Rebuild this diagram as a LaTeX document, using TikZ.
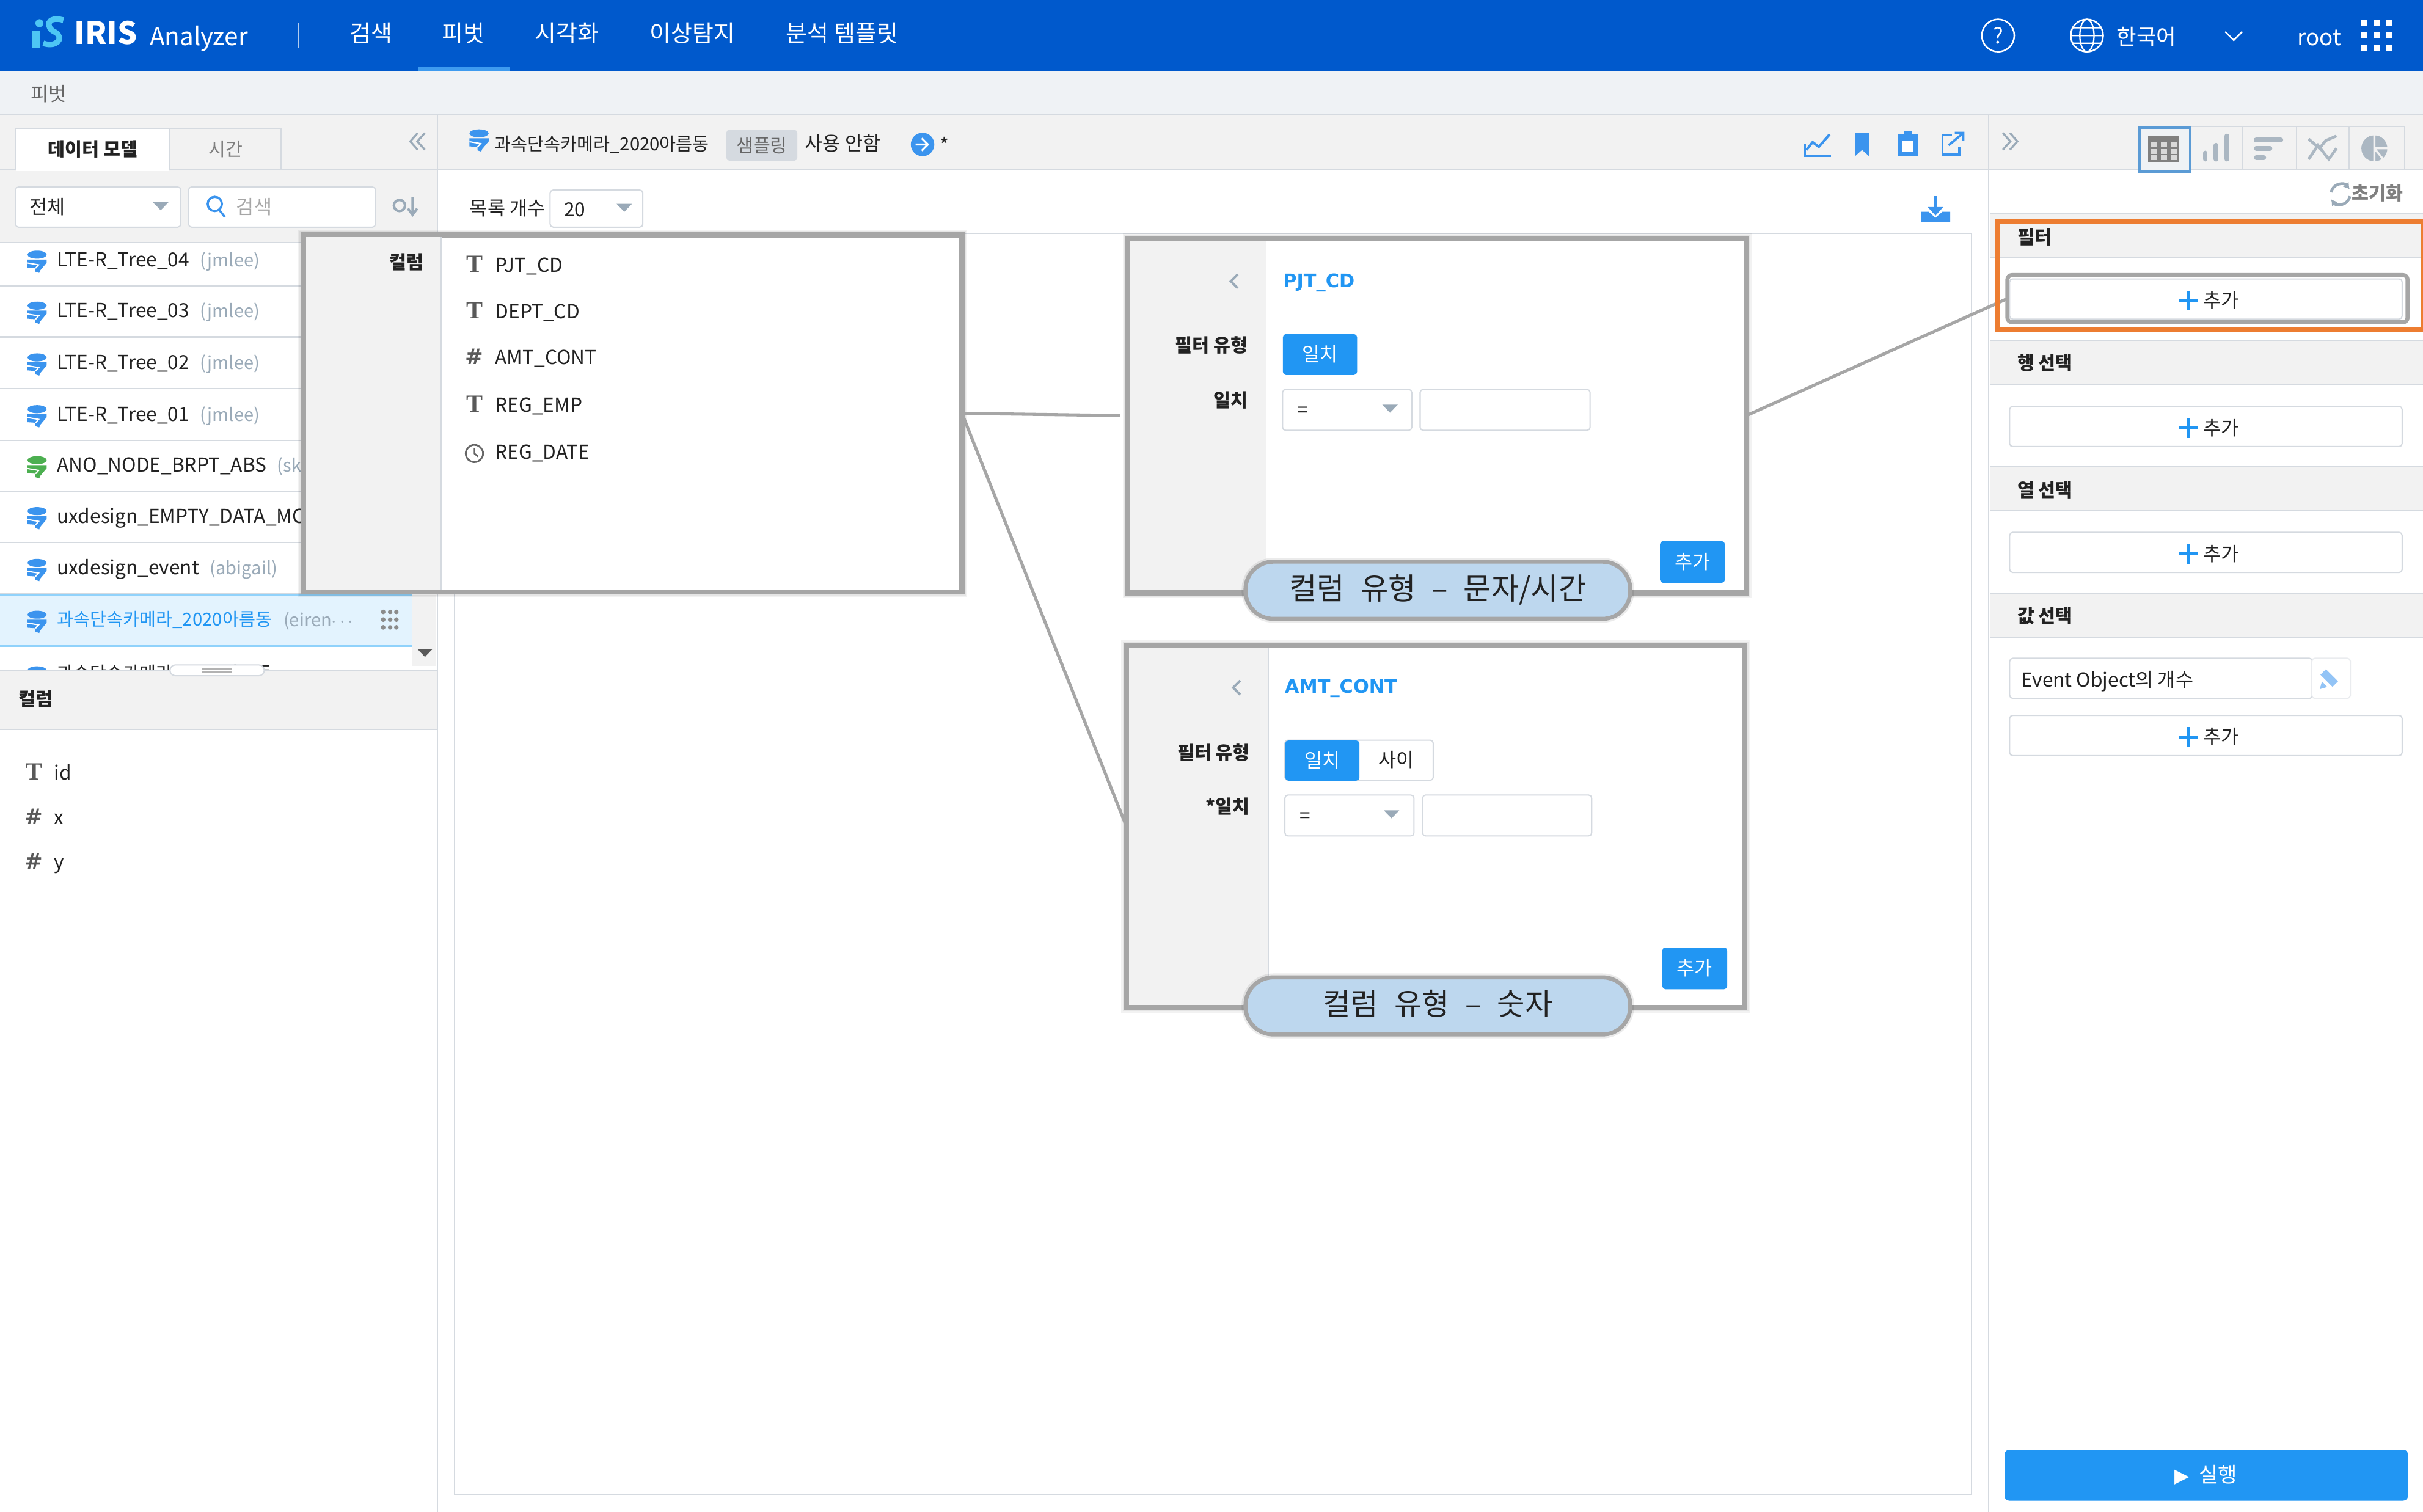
\documentclass[tikz,border=0pt]{standalone}
\usepackage{fontspec}
\setmainfont{Noto Sans CJK KR}
\newfontfamily\glyphfont{Liberation Serif}
\newfontfamily\symfont{DejaVu Sans}
\newcommand{\hashmark}{{\symfont\bfseries\fontsize{14}{16}\selectfont\#}}
\newcommand{\wgap}{\hspace{.3em}}
\usepackage{tikz}
\usetikzlibrary{arrows.meta,positioning}
\definecolor{navblue}{HTML}{0059CC}
\definecolor{navline}{HTML}{3E9BEF}
\definecolor{subbar}{HTML}{EFF2F5}
\definecolor{headgrey}{HTML}{F2F2F2}
\definecolor{linegrey}{HTML}{D5DAE0}
\definecolor{framegrey}{HTML}{A6A6A6}
\definecolor{accent}{HTML}{2196F3}
\definecolor{iconblue}{HTML}{3B94EE}
\definecolor{icongreen}{HTML}{4CAF50}
\definecolor{mutegrey}{HTML}{9AAAB8}
\definecolor{iconmute}{HTML}{ABB7C2}
\definecolor{inktext}{HTML}{222222}
\definecolor{rowsel}{HTML}{E3F3FE}
\definecolor{rowedge}{HTML}{90D2FB}
\definecolor{pillfill}{HTML}{BDD7EE}
\definecolor{orangebox}{HTML}{ED7D31}
\definecolor{tabblue}{HTML}{5B9BD5}
\tikzset{
  pics/dbicon/.style={code={
    \fill[#1] (0,-4.2) ellipse (6.2 and 2.6);
    \fill[#1] (-6.2,-1) -- (6.2,-1) -- (6.2,1) -- (2,6) -- (1.4,7.6) -- (-1,6.8) -- (-1,4.6) -- (-6.2,4.2) -- cycle;
    \draw[white,line width=.8pt] (-6.2,1.2) -- (1,2.4) -- (-1,4.6);
  }},
  pics/caret/.style={code={\fill[#1] (-5,-2.6) -- (5,-2.6) -- (0,2.6) -- cycle;}},
  pics/plusmark/.style={code={
    \draw[accent,line width=1.8pt] (-6,0) -- (6,0) (0,-6.4) -- (0,6.4);
  }},
  pics/clockmark/.style={code={
    \draw[#1,line width=1.1pt] (0,0) circle (5.6);
    \draw[#1,line width=1pt] (0,-3.4) -- (0,0) -- (2.4,2);
  }},
  pics/twinfold/.style={code={
    \draw[mutegrey,line width=1.3pt] (#1*-4.4,-5.4) -- (#1*.4,0) -- (#1*-4.4,5.4)
      (#1*.2,-5.4) -- (#1*5,0) -- (#1*.2,5.4);
  }}
}
\begin{document}
\begin{tikzpicture}[
  x=1pt,y=-1pt,
  lab/.style={inner sep=0pt,outer sep=0pt,anchor=west,text height=1em,text depth=.1em,
    font=\fontsize{12.5}{15}\selectfont,text=inktext},
  midlab/.style={lab,anchor=center},
  endlab/.style={lab,anchor=east},
  navlab/.style={midlab,text=white,font=\fontsize{15}{18}\selectfont},
  headlab/.style={lab,font=\fontsize{12}{15}\selectfont\bfseries},
  modellab/.style={lab,font=\fontsize{11.6}{15}\selectfont},
  typemark/.style={midlab,font=\fontsize{16}{18}\selectfont\glyphfont\bfseries,text=black!65},
  inbox/.style={rectangle,draw=linegrey,fill=white,rounded corners=2pt,line width=.8pt,
    inner sep=0pt,outer sep=0pt,anchor=north west},
  popframe/.style={rectangle,draw=framegrey,fill=white,line width=3.2pt,inner sep=0pt,
    outer sep=0pt,anchor=north west,
    preaction={draw=black,draw opacity=.05,line width=7pt},
    preaction={draw=black,draw opacity=.05,line width=5pt}},
  bluebtn/.style={rectangle,fill=accent,rounded corners=2pt,inner sep=0pt,text=white,
    text height=1em,text depth=.1em,font=\fontsize{12.5}{15}\selectfont,anchor=north west},
  pill/.style={rectangle,draw=framegrey,fill=pillfill,line width=2.6pt,rounded corners=18pt,
    minimum width=249pt,minimum height=37pt,inner sep=0pt,outer sep=0pt,text height=1.3em,text depth=.1em,
    preaction={draw=black,draw opacity=.08,line width=5pt},
    font=\fontsize{19.5}{22}\selectfont,text=inktext},
  link/.style={draw=framegrey,line width=2pt}
]
\useasboundingbox (0,0) rectangle (1568,978.5);
\fill[white] (0,0) rectangle (1568,978.5);
\fill[navblue] (0,0) rectangle (1568,46);
\fill[subbar] (0,46) rectangle (1568,74);
\fill[navline] (271,43) rectangle (330,46);
\fill[headgrey] (0,74) rectangle (283,157);
\fill[headgrey] (283,74) rectangle (1287,110);
\fill[headgrey] (1287,74) rectangle (1568,110);
\draw[linegrey,line width=.8pt] (0,74) -- (1568,74) (283,110) -- (1568,110);
\draw[linegrey,line width=.8pt] (0,110) -- (10,110) (182,110) -- (283,110);
\draw[linegrey,line width=.8pt] (283,74) -- (283,978.5) (1287,74) -- (1287,978.5);

% top bar
\fill[cyan!70!white] (25.5,15) circle (2.6);
\draw[cyan!70!white,line width=3.6pt] (41,13) .. controls (30,10) and (29,18) .. (36,21) .. controls (42,25) and (36,31) .. (28,28);
\fill[cyan!70!white] (21,20) rectangle (26,31);
\node[lab,text=white,font=\fontsize{20}{22}\selectfont\bfseries] (irismark) at (48,24) {IRIS};
\node[lab,text=white,font=\fontsize{16}{18}\selectfont] (analyzer) at (97,25) {Analyzer};
\draw[white!70!navblue,line width=.8pt] (193,15) -- (193,31);
\foreach \x/\t [count=\i] in {240/검색,300/피벗,367/시각화,448/이상탐지,545/분석 템플릿}
  \node[navlab] (nav\i) at (\x,22.5) {\t};
\node[circle,draw=white,line width=1pt,minimum size=21pt,inner sep=0pt,text=white,
  font=\fontsize{14}{16}\selectfont] (helpmark) at (1293,23) {?};
\node[circle,draw=white,line width=1pt,minimum size=21pt,inner sep=0pt] (globe) at (1350.5,23) {};
\draw[white,line width=.9pt] (globe.center) ellipse (4.6 and 10.5) (globe.west) -- (globe.east)
  (1341.5,18) -- (1359.5,18) (1341.5,28) -- (1359.5,28);
\node[navlab,font=\fontsize{14}{17}\selectfont] (lang) at (1389,24.5) {한국어};
\draw[white,line width=1pt] (1440,20.5) -- (1445.5,26) -- (1451,20.5);
\node[navlab,font=\fontsize{14.5}{17}\selectfont] (rootname) at (1501,25) {root};
\foreach \x in {1530,1538,1546}
  \foreach \y in {15,23,31}
    \fill[white] (\x-2,\y-2) rectangle (\x+2,\y+2);

\node[lab,text=black!60,font=\fontsize{12.5}{15}\selectfont] (crumb) at (20,61) {피벗};

% left panel
\node[inbox,fill=white,rounded corners=0pt,minimum width=100pt,minimum height=27pt,
  font=\fontsize{12}{15}\selectfont\bfseries,text=inktext] (tabmodel) at (10,83) {데이터 모델};
\draw[white,line width=1.4pt] (10.5,110) -- (109.5,110);
\node[inbox,fill=headgrey,rounded corners=0pt,minimum width=72pt,minimum height=27pt,
  font=\fontsize{12}{15}\selectfont,text=black!50] (tabtime) at (110,83) {시간};
\pic at (270.5,91.5) {twinfold=-1};
\node[inbox,minimum width=107pt,minimum height=26pt] (selall) at (10,121) {};
\node[lab] (selalltxt) at (19,134) {전체};
\pic at (104,133.5) {caret=mutegrey};
\node[inbox,minimum width=121pt,minimum height=26pt] (searchbox) at (122,121) {};
\draw[iconblue,line width=1.4pt] (139,132) circle (4.6) (142,136) -- (145.5,140.5);
\node[lab,text=black!35] (searchtxt) at (153,134) {검색};
\draw[mutegrey,line width=1.6pt] (258.5,133) circle (3.6);
\draw[mutegrey,line width=1.6pt] (267,127.5) -- (267,138) (264,135) -- (267,139) -- (270,135);

\fill[white] (0,157) rectangle (283,434);
\draw[linegrey,line width=.8pt] (0,157) -- (283,157);
\foreach \y/\t/\u/\c [count=\i] in {
  168/LTE-R\_Tree\_04/(jmlee)/iconblue,
  201/LTE-R\_Tree\_03/(jmlee)/iconblue,
  234.5/LTE-R\_Tree\_02/(jmlee)/iconblue,
  268/LTE-R\_Tree\_01/(jmlee)/iconblue,
  301/ANO\_NODE\_BRPT\_ABS/(sky/icongreen,
  334/uxdesign\_EMPTY\_DATA\_MC//iconblue,
  367.5/uxdesign\_event/(abigail)/iconblue}{
  \pic at (24,\y+1) {dbicon=\c};
  \node[lab] (row\i) at (37,\y) {\t};
  \node[lab,text=mutegrey,font=\fontsize{11.5}{14}\selectfont,right=7pt of row\i] (owner\i) {\u};
  \draw[linegrey,line width=1pt] (0,\y+17) -- (195,\y+17);
}
\pic at (24,438) {dbicon=iconblue};
\node[modellab] (rownext) at (37,435.5) {과속단속카메라\_2020아름동};
\fill[rowsel] (0,385) rectangle (267,418);
\draw[rowedge,line width=1pt] (0,385) -- (267,385) (0,418) -- (267,418);
\pic at (24,402) {dbicon=iconblue};
\node[modellab,text=accent] (rowsel) at (37,400.5) {과속단속카메라\_2020아름동};
\node[lab,text=mutegrey,font=\fontsize{11.5}{14}\selectfont] (ownersel) at (183.5,401) {(eiren$\cdots$};
\foreach \x in {248,252.5,256.5}
  \foreach \y in {396,401,406}
    \fill[black!45] (\x,\y) circle (1.5);
\fill[headgrey] (267,385) rectangle (282,431);
\pic at (275,422.5) {caret=black!65};
\fill[headgrey] (0,434) rectangle (283,472);
\draw[linegrey,line width=.8pt] (0,433.7) -- (283,433.7) (0,472) -- (283,472);
\node[rectangle,draw=linegrey,fill=white,rounded corners=3.5pt,minimum width=61pt,
  minimum height=7pt,inner sep=0pt,line width=.8pt] (splitgrip) at (140.5,433.8) {};
\draw[black!30,line width=.7pt] (131,432.8) -- (150,432.8) (131,434.8) -- (150,434.8);
\node[headlab] (fieldshead) at (12,452.5) {컬럼};
\foreach \y/\g/\t [count=\i] in {500/T/id,529/\hashmark/x,558/\hashmark/y}{
  \node[typemark] (fieldmark\i) at (22,\y) {\g};
  \node[lab] (fieldname\i) at (35,\y) {\t};
}

% main panel
\pic at (310,90.5) {dbicon=iconblue};
\node[modellab] (modelname) at (320,93) {과속단속카메라\_2020아름동};
\node[rectangle,fill=linegrey,rounded corners=2pt,minimum width=46pt,minimum height=20pt,
  inner sep=0pt,text=black!60,font=\fontsize{12}{15}\selectfont] (sampling) at (493,94) {샘플링};
\node[lab] (sampleoff) at (521,93) {사용 안함};
\fill[iconblue] (597,93.5) circle (7.6);
\draw[white,line width=1.3pt] (592.5,93.5) -- (600,93.5) (596.5,89.5) -- (600.5,93.5) -- (596.5,97.5);
\node[midlab] (modelstar) at (611,94) {*};
\draw[iconblue,line width=1.3pt] (1168,93) -- (1168,101) -- (1185,101);
\draw[iconblue,line width=1.6pt] (1169,97) -- (1173,92) -- (1177,95) -- (1184,87);
\fill[iconblue] (1200.5,86) -- (1209.5,86) -- (1209.5,101) -- (1205,97) -- (1200.5,101) -- cycle;
\fill[iconblue] (1228,87) rectangle (1241,101);
\fill[white] (1231,91) rectangle (1238,98);
\fill[iconblue] (1232,85) rectangle (1237,89);
\draw[iconblue,line width=1.5pt] (1263,87.5) -- (1257,87.5) -- (1257,100) -- (1268,100) -- (1268,95);
\draw[iconblue,line width=1.5pt] (1261,94) -- (1270,86.5) (1265,86) -- (1270.5,86) -- (1270.5,91);
\node[lab] (countlab) at (304,135) {목록 개수};
\node[inbox,minimum width=60pt,minimum height=24pt] (countsel) at (356,123) {};
\node[lab] (countval) at (365,135.5) {20};
\pic at (404,134.5) {caret=mutegrey};
\fill[iconblue] (1243,137) -- (1248,137) -- (1252.5,141) -- (1257,137) -- (1262,137) -- (1262,143.5) -- (1243,143.5) -- cycle;
\draw[iconblue,line width=2.2pt] (1252.5,127) -- (1252.5,136);
\fill[iconblue] (1247.5,134) -- (1257.5,134) -- (1252.5,139.5) -- cycle;
\node[inbox,rounded corners=0pt,minimum width=982pt,minimum height=816pt] (canvasbox) at (294,151) {};

% right panel
\foreach \x/\w in {1417/34,1451/35,1486/34,1520/36}
  \draw[linegrey,line width=.8pt] (\x,82) rectangle (\x+\w,110);
\node[rectangle,draw=tabblue,fill=subbar,line width=1.8pt,minimum width=33pt,minimum height=29pt,
  inner sep=0pt,anchor=north west] (tabtable) at (1383.5,81.5) {};
\fill[black!50] (1390,87.7) rectangle (1410,104.7);
\foreach \x in {1392,1398.5,1405}
  \foreach \y in {92,96.5,100.5}
    \fill[white!85!black] (\x,\y) rectangle (\x+4,\y+3);
\draw[iconmute,line width=3pt,line cap=round] (1427,103) -- (1427,99) (1434,103) -- (1434,94) (1441,103) -- (1441,88);
\draw[iconmute,line width=3pt,line cap=round] (1460,90.5) -- (1476,90.5) (1460,96) -- (1469,96) (1460,102) -- (1465,102);
\draw[iconmute,line width=1.8pt] (1494,90) -- (1501,96) -- (1505,91) -- (1512,88);
\draw[iconmute,line width=1.8pt] (1494,103) -- (1500,94) -- (1507,103) -- (1512,96);
\fill[iconmute] (1536.5,96) circle (8.4);
\draw[headgrey,line width=1.3pt] (1536.5,87) -- (1536.5,105) (1536.5,96) -- (1546,96) (1536.5,96) -- (1543,104);
\pic at (1300.5,91.5) {twinfold=1};
\node[endlab,text=black!50,font=\fontsize{12}{15}\selectfont\bfseries] (resetlab) at (1555,125) {초기화};
\draw[mutegrey,line width=1.8pt,-{Latex[length=4pt,width=5pt]}] (1508.6,124.5) .. controls (1509.5,118.5) and (1517,118) .. (1520.5,122.5);
\draw[mutegrey,line width=1.8pt,-{Latex[length=4pt,width=5pt]}] (1520.6,127) .. controls (1519.5,133) and (1512,133.5) .. (1508.5,129);
\foreach \y in {138.5,220.6,302,384}
  \fill[headgrey] (1288,\y) rectangle (1568,\y+28.5);
\foreach \y in {138.5,167,220.6,248.8,302,330.5,384,412.6}
  \draw[linegrey,line width=.8pt] (1288,\y) -- (1568,\y);
\foreach \y/\t [count=\i] in {153.5/필터,235/행 선택,317/열 선택,398.5/값 선택}
  \node[headlab] (sechead\i) at (1305.5,\y) {\t};
\foreach \y [count=\i] in {180.5,263,344.5,463}{
  \node[inbox,minimum width=254pt,minimum height=26pt] (addbtn\i) at (1300.5,\y) {};
  \pic at (1416,\y+14) {plusmark};
  \node[lab] (addtxt\i) at (1426,\y+14) {추가};
}
\node[inbox,minimum width=196pt,minimum height=26pt] (valbox) at (1300.5,426) {};
\node[lab] (valtxt) at (1308,440) {Event Object의 개수};
\node[inbox,draw=linegrey!50,minimum width=25pt,minimum height=26pt] (valedit) at (1496,426) {};
\fill[iconblue!55!white,rotate around={45:(1508,439.5)}] (1505.5,433) rectangle (1510.5,444);
\fill[iconblue!55!white] (1501.2,446) -- (1502.6,441) -- (1506,444.6) -- cycle;
\node[rectangle,fill=accent,rounded corners=3pt,minimum width=261pt,minimum height=33pt,
  inner sep=0pt,text=white,text height=1em,text depth=.1em,font=\fontsize{13.5}{16}\selectfont,anchor=north west] (runbtn) at (1297,938)
  {{\symfont\fontsize{12.5}{14}\selectfont ▶}\hspace{3pt} 실행};

% column popup
\node[popframe,minimum width=426.2pt,minimum height=231pt] (colpanel) at (196.3,152) {};
\fill[headgrey] (198,153.5) rectangle (285.5,381.5);
\draw[linegrey,line width=.6pt] (285.5,153.5) -- (285.5,381.5);
\node[endlab,font=\fontsize{12}{15}\selectfont\bfseries] (coltitle) at (274,169.5) {컬럼};
\foreach \y/\g/\t [count=\i] in {171.5/T/PJT\_CD,201.5/T/DEPT\_CD,231.5/\hashmark/AMT\_CONT,262/T/REG\_EMP}{
  \node[typemark] (colmark\i) at (307,\y) {\g};
  \node[lab] (colname\i) at (320.5,\y) {\t};
}
\pic at (307,293.5) {clockmark=black!60};
\node[lab] (colname5) at (320.5,292.5) {REG\_DATE};

% text filter popup
\node[popframe,minimum width=400pt,minimum height=229.4pt] (textpanel) at (730,154.3) {};
\fill[headgrey] (731.6,155.9) rectangle (819.3,382.1);
\draw[linegrey,line width=.6pt] (819.3,155.9) -- (819.3,382.1);
\draw[mutegrey,line width=1.5pt] (801,177.5) -- (796.5,182) -- (801,186.5);
\node[lab,text=accent,font=\fontsize{12}{15}\selectfont\symfont\bfseries] (textname) at (830.4,181.5) {PJT\_CD};
\node[endlab,font=\fontsize{12}{15}\selectfont\bfseries] (texttype) at (807.4,223.5) {필터 유형};
\node[endlab,font=\fontsize{12}{15}\selectfont\bfseries] (textmatch) at (807.4,259) {일치};
\node[bluebtn,minimum width=48pt,minimum height=26.5pt] (textbtn) at (830,216) {일치};
\node[inbox,minimum width=83.6pt,minimum height=26.5pt] (textsel) at (830,252) {};
\node[lab] (textop) at (839.5,265.5) {=};
\pic at (899.5,264.5) {caret=mutegrey};
\node[inbox,minimum width=110pt,minimum height=26.5pt] (textval) at (919,252) {};
\node[bluebtn,minimum width=42pt,minimum height=27pt] (textadd) at (1074,350) {추가};

% number filter popup
\node[popframe,minimum width=400pt,minimum height=234pt] (numpanel) at (729,418) {};
\fill[headgrey] (730.6,419.6) rectangle (820.7,650.4);
\draw[linegrey,line width=.6pt] (820.7,419.6) -- (820.7,650.4);
\draw[mutegrey,line width=1.5pt] (802.5,440.5) -- (798,445) -- (802.5,449.5);
\node[lab,text=accent,font=\fontsize{12}{15}\selectfont\symfont\bfseries] (numname) at (831.5,444) {AMT\_CONT};
\node[endlab,font=\fontsize{12}{15}\selectfont\bfseries] (numtype) at (808.8,487) {필터 유형};
\node[endlab,font=\fontsize{12}{15}\selectfont\bfseries] (nummatch) at (808.8,522) {*일치};
\node[inbox,minimum width=96pt,minimum height=26pt] (numgroup) at (831.5,479) {};
\node[bluebtn,minimum width=48pt,minimum height=26pt] (numbtn) at (831.5,479) {일치};
\node[midlab] (numbetween) at (903.5,492) {사이};
\node[inbox,minimum width=83.5pt,minimum height=26.5pt] (numsel) at (831.5,514.5) {};
\node[lab] (numop) at (841,528) {=};
\pic at (900.5,527) {caret=mutegrey};
\node[inbox,minimum width=109.4pt,minimum height=26.5pt] (numval) at (920.6,514.5) {};
\node[bluebtn,minimum width=42pt,minimum height=27pt] (numadd) at (1075.5,613) {추가};

% connectors and marks
\node[rectangle,draw=framegrey,line width=2.6pt,rounded corners=3pt,minimum width=259pt,
  minimum height=30.5pt,inner sep=0pt,outer sep=0pt,anchor=north west] (addmark) at (1299,178) {};
\draw[link,shorten >=5pt] (colpanel.east) -- (textpanel.west);
\draw[link] (colpanel.east) -- (numpanel.west);
\draw[link] (textpanel.east) -- (addmark.west);
\node[pill] (textpill) at (930.5,382) {컬럼\wgap{} 유형\wgap{} –\wgap{} 문자/시간};
\node[pill] (numpill) at (930.5,651) {컬럼\wgap{} 유형\wgap{} –\wgap{} 숫자};
\node[rectangle,draw=orangebox,line width=2.8pt,minimum width=275.5pt,minimum height=69.7pt,
  inner sep=0pt,anchor=north west] (filterbox) at (1291,142) {};
\end{tikzpicture}
\end{document}
